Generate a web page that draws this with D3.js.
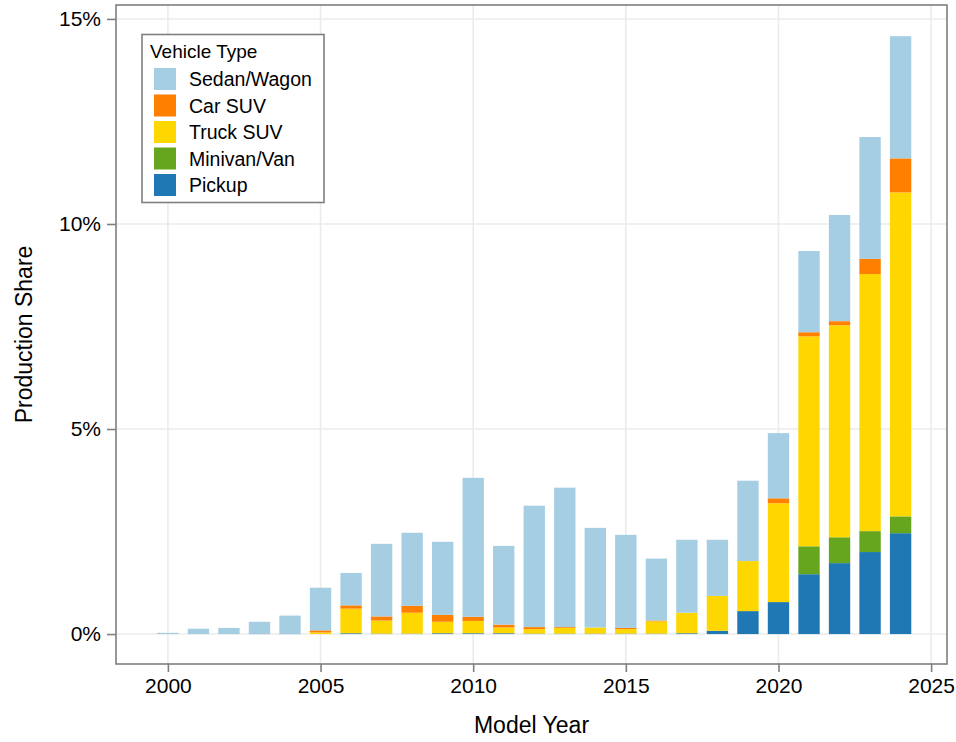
<!DOCTYPE html>
<html>
<head>
<meta charset="utf-8">
<script src="https://cdn.jsdelivr.net/npm/d3@7"></script>
<style>
body { margin: 0; background: #fff; }
text { font-family: "Liberation Sans", Arial, sans-serif; fill: #000; }
</style>
</head>
<body>
<div id="chart"></div>
<script>
// production share (%) by model year
var years = [2000,2001,2002,2003,2004,2005,2006,2007,2008,2009,2010,2011,2012,
             2013,2014,2015,2016,2017,2018,2019,2020,2021,2022,2023,2024];
var pickup   = [0,0,0,0.01,0.01,0,0.02,0.01,0.01,0.02,0.02,0.02,0.01,
                0.01,0.01,0.01,0.01,0.02,0.08,0.56,0.78,1.46,1.73,2.0,2.46];
var minivan  = [0,0,0,0,0,0,0,0,0,0,0,0,0,
                0,0,0,0,0,0,0,0,0.68,0.63,0.51,0.41];
var truckSuv = [0,0,0,0,0,0.04,0.6,0.32,0.51,0.28,0.3,0.14,0.11,
                0.14,0.15,0.11,0.3,0.5,0.85,1.22,2.41,5.12,5.17,6.27,7.9];
var carSuv   = [0,0,0,0,0,0.05,0.08,0.1,0.17,0.17,0.1,0.07,0.05,
                0.02,0,0.03,0.02,0,0,0,0.12,0.1,0.1,0.37,0.83];
var sedan    = [0.03,0.13,0.15,0.29,0.44,1.04,0.79,1.77,1.78,1.78,3.39,1.92,2.96,
                3.4,2.43,2.27,1.51,1.78,1.37,1.96,1.59,1.98,2.59,2.97,2.98];

var vehicleTypes = ["Sedan/Wagon", "Car SUV", "Truck SUV", "Minivan/Van", "Pickup"];
var stackKeys = ["Pickup", "Minivan/Van", "Truck SUV", "Car SUV", "Sedan/Wagon"];
var typeColors = ["#a6cee3", "#ff7f00", "#ffd700", "#66a61e", "#1f78b4"];
var xTicks = [2000, 2005, 2010, 2015, 2020, 2025];
var yTicks = [0, 5, 10, 15];

var productionVis = function(_parentElement) {
    this.parentElement = _parentElement;
    this.initVis();
}

productionVis.prototype.initVis = function() {
    var vis = this;
    vis.margin = {top: 5, right: 9, bottom: 78, left: 116};
    vis.width = 956 - vis.margin.left - vis.margin.right;
    vis.height = 742 - vis.margin.top - vis.margin.bottom;

    vis.svg = d3.select("#" + vis.parentElement)
        .append("svg")
        .attr("width", 956)
        .attr("height", 742)
        .append("g")
        .attr("transform", "translate(" + vis.margin.left + "," + vis.margin.top + ")");

    vis.rows = years.map(function(y, i) {
        return {year: y, "Pickup": pickup[i], "Minivan/Van": minivan[i], "Truck SUV": truckSuv[i],
                "Car SUV": carSuv[i], "Sedan/Wagon": sedan[i]};
    });

    vis.x = d3.scaleLinear().domain([1998.3, 2025.52]).range([0, vis.width]);
    vis.y = d3.scaleLinear().domain([-0.73, 15.34]).range([vis.height, 0]);
    vis.color = d3.scaleOrdinal().domain(vehicleTypes).range(typeColors);

    // grid
    vis.svg.append("g").selectAll("line.gx")
        .data(xTicks).enter().append("line")
        .attr("x1", function(d){ return vis.x(d); })
        .attr("x2", function(d){ return vis.x(d); })
        .attr("y1", 0).attr("y2", vis.height)
        .attr("stroke", "#ebebeb").attr("stroke-width", 1.6);
    vis.svg.append("g").selectAll("line.gy")
        .data(yTicks).enter().append("line")
        .attr("y1", function(d){ return vis.y(d); })
        .attr("y2", function(d){ return vis.y(d); })
        .attr("x1", 0).attr("x2", vis.width)
        .attr("stroke", "#ebebeb").attr("stroke-width", 1.6);

    vis.updateVis();
}

productionVis.prototype.updateVis = function() {
    var vis = this;
    var barW = vis.x(2000.7) - vis.x(2000);
    var series = d3.stack().keys(stackKeys)(vis.rows);

    vis.svg.append("g").selectAll("g")
        .data(series).enter().append("g")
        .attr("fill", function(d){ return vis.color(d.key); })
        .selectAll("rect")
        .data(function(d){ return d; })
        .enter().append("rect")
        .attr("x", function(d){ return vis.x(d.data.year) - barW / 2; })
        .attr("y", function(d){ return vis.y(d[1]); })
        .attr("width", barW)
        .attr("height", function(d){ return Math.max(0, vis.y(d[0]) - vis.y(d[1])); });

    // axes
    var xAxis = d3.axisBottom(vis.x).tickValues(xTicks).tickSize(8).tickPadding(6)
        .tickFormat(d3.format("d"));
    var yAxis = d3.axisLeft(vis.y).tickValues(yTicks).tickSize(9).tickPadding(6)
        .tickFormat(function(d){ return d + "%"; });

    var gx = vis.svg.append("g").attr("transform", "translate(0," + vis.height + ")").call(xAxis);
    var gy = vis.svg.append("g").call(yAxis);
    [gx, gy].forEach(function(g) {
        g.select(".domain").remove();
        g.selectAll(".tick line").attr("stroke", "#7f7f7f").attr("stroke-width", 1.6);
        g.selectAll(".tick text").style("font-size", "21px").style("font-family", "Liberation Sans, Arial, sans-serif");
    });

    // panel border
    vis.svg.append("rect")
        .attr("width", vis.width).attr("height", vis.height)
        .attr("fill", "none").attr("stroke", "#7f7f7f").attr("stroke-width", 1.6);

    // axis titles
    vis.svg.append("text")
        .attr("x", vis.width / 2).attr("y", vis.height + 69)
        .attr("text-anchor", "middle")
        .style("font-size", "23px")
        .text("Model Year");
    vis.svg.append("text")
        .attr("transform", "rotate(-90)")
        .attr("x", -vis.height / 2).attr("y", -84)
        .attr("text-anchor", "middle")
        .style("font-size", "23px")
        .text("Production Share");

    // legend
    var lg = vis.svg.append("g").attr("transform", "translate(26,29.5)");
    lg.append("rect")
        .attr("width", 182).attr("height", 168)
        .attr("fill", "#fff").attr("stroke", "#7f7f7f").attr("stroke-width", 1.6);
    lg.append("text").attr("x", 8).attr("y", 23.5)
        .style("font-size", "19px").text("Vehicle Type");
    var items = lg.selectAll(".legendItem")
        .data(vehicleTypes).enter().append("g")
        .attr("class", "legendItem")
        .attr("transform", function(d, i){ return "translate(12," + (33.5 + i * 26.5) + ")"; });
    items.append("rect")
        .attr("width", 22).attr("height", 22)
        .attr("fill", function(d){ return vis.color(d); });
    items.append("text")
        .attr("x", 35).attr("y", 18)
        .style("font-size", "19.5px")
        .text(function(d){ return d; });
}

var chart = new productionVis("chart");
</script>
</body>
</html>
